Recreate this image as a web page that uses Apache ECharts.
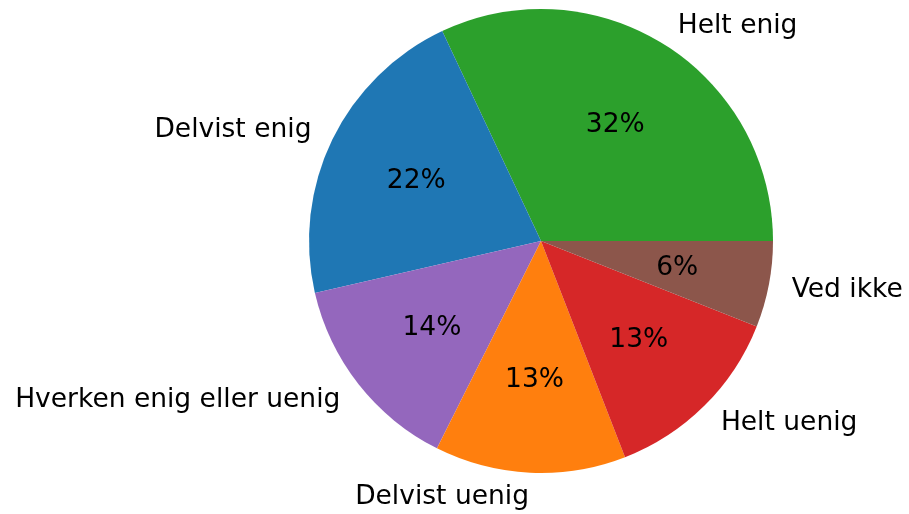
<!DOCTYPE html>
<html>
<head>
<meta charset="utf-8">
<script src="https://cdn.jsdelivr.net/npm/echarts@6/dist/echarts.min.js"></script>
<style>
  html, body { margin: 0; padding: 0; background: #fff; }
  #main { width: 909px; height: 514px; }
</style>
</head>
<body>
<div id="main"></div>
<script>
// answer categories, counter-clockwise from 3 o'clock
var categories = ['Helt enig', 'Delvist enig', 'Hverken enig eller uenig', 'Delvist uenig', 'Helt uenig', 'Ved ikke'];
// share of answers (%)
var shares = [32.0, 21.6, 14.0, 13.3, 13.1, 6.0];
var colors = ['#2ca02c', '#1f77b4', '#9467bd', '#ff7f0e', '#d62728', '#8c564b'];

var R = 232;
var font = 'DejaVu Sans';
var fs = 26.5;

var pieData = categories.map(function (c, i) {
  return { name: c, value: shares[i], itemStyle: { color: colors[i] } };
});
var pctData = categories.map(function (c, i) {
  return { name: c, value: shares[i] };
});

var chart = echarts.init(document.getElementById('main'));
chart.setOption({
  animation: false,
  series: [
    {
      // the pie itself, with the names outside
      type: 'pie',
      center: [541, 241],
      radius: R,
      startAngle: 0,
      clockwise: false,
      avoidLabelOverlap: false,
      silent: true,
      itemStyle: { borderWidth: 0 },
      label: {
        show: true,
        position: 'outside',
        formatter: '{b}',
        color: '#000',
        fontFamily: font,
        fontSize: fs,
        distanceToLabelLine: 0,
        offset: [0, 1]
      },
      labelLine: { show: false, length: R * 0.1, length2: 0 },
      data: pieData
    },
    {
      // invisible ring so the percent labels sit near 0.6 r
      type: 'pie',
      center: [541, 241],
      radius: R * 1.2 - 7,
      startAngle: 0,
      clockwise: false,
      silent: true,
      itemStyle: { color: 'rgba(0,0,0,0)', borderWidth: 0 },
      label: {
        show: true,
        position: 'inside',
        formatter: function (p) { return Math.round(p.percent) + '%'; },
        color: '#000',
        fontFamily: font,
        fontSize: fs,
        offset: [0, 1]
      },
      labelLine: { show: false },
      data: pctData
    }
  ]
});
</script>
</body>
</html>
